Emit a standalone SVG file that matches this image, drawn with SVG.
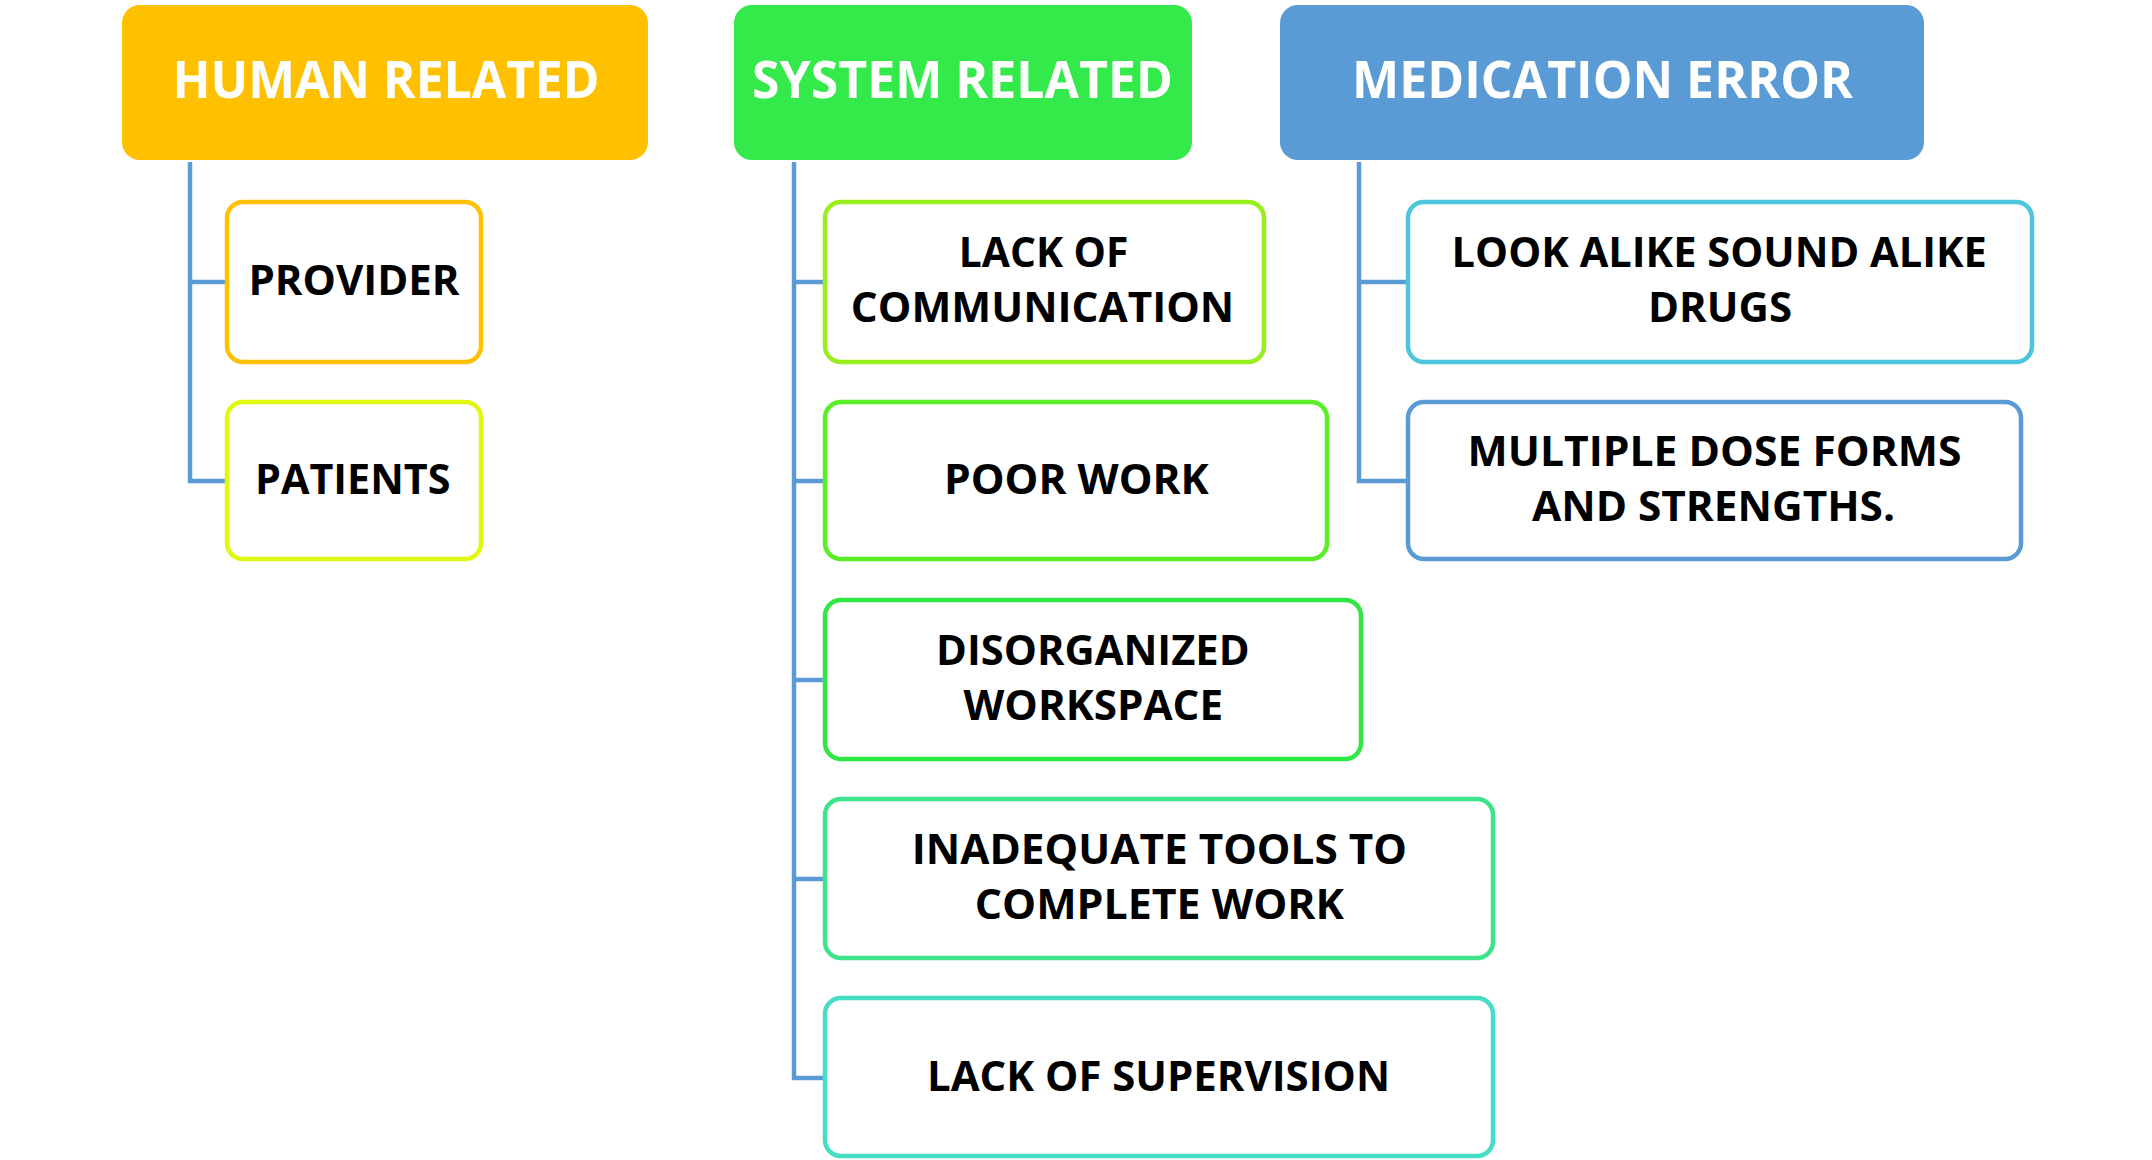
<svg xmlns="http://www.w3.org/2000/svg" width="2152" height="1160" viewBox="0 0 2152 1160">
<style>
.hdr{stroke:none}
.hdrtxt{font-family:"Open Sans","Liberation Sans",sans-serif;font-weight:700;font-size:52px;fill:#FFFFFF;text-anchor:middle}
.box{fill:#FFFFFF;stroke-width:4.5}
.txt{font-family:"Open Sans","Liberation Sans",sans-serif;font-weight:700;font-size:42px;fill:#000000;text-anchor:middle}
.conn{fill:none;stroke:#5B9BD5;stroke-width:4.5}
</style>
<rect width="2152" height="1160" fill="#FFFFFF"/>
<g id="connectors">
<path class="conn" d="M190 162 V481 H227 M190 282 H227"/>
<path class="conn" d="M794 162 V1078 H825 M794 282 H825 M794 481 H825 M794 680 H825 M794 879 H825"/>
<path class="conn" d="M1359 162 V481 H1408 M1359 282 H1408"/>
</g>
<g id="human-related">
<rect class="hdr" x="122" y="5" width="526" height="155" rx="18" fill="#FFC000"/>
<text class="hdrtxt" x="386" y="98" textLength="427" lengthAdjust="spacingAndGlyphs">HUMAN RELATED</text>
</g>
<g id="system-related">
<rect class="hdr" x="734" y="5" width="458" height="155" rx="18" fill="#33EA4A"/>
<text class="hdrtxt" x="962.5" y="98" textLength="421" lengthAdjust="spacingAndGlyphs">SYSTEM RELATED</text>
</g>
<g id="medication-error">
<rect class="hdr" x="1280" y="5" width="644" height="155" rx="18" fill="#5B9BD5"/>
<text class="hdrtxt" x="1602.5" y="98" textLength="501" lengthAdjust="spacingAndGlyphs">MEDICATION ERROR</text>
</g>
<g id="provider">
<rect class="box" x="227" y="202" width="254" height="160" rx="16" stroke="#FFC000"/>
<text class="txt" x="354" y="295" textLength="211" lengthAdjust="spacingAndGlyphs">PROVIDER</text>
</g>
<g id="patients">
<rect class="box" x="227" y="402" width="254" height="157" rx="16" stroke="#E0F80E"/>
<text class="txt" x="352.7" y="494" textLength="195.5" lengthAdjust="spacingAndGlyphs">PATIENTS</text>
</g>
<g id="lack-of-communication">
<rect class="box" x="825" y="202" width="439" height="160" rx="16" stroke="#98EE1E"/>
<text class="txt" x="1043.6" y="267" textLength="169.7" lengthAdjust="spacingAndGlyphs">LACK OF</text>
<text class="txt" x="1042.5" y="322" textLength="383.5" lengthAdjust="spacingAndGlyphs">COMMUNICATION</text>
</g>
<g id="poor-work">
<rect class="box" x="825" y="402" width="502" height="157" rx="16" stroke="#58EE28"/>
<text class="txt" x="1076.4" y="494" textLength="264.8" lengthAdjust="spacingAndGlyphs">POOR WORK</text>
</g>
<g id="disorganized-workspace">
<rect class="box" x="825" y="600" width="536" height="159" rx="16" stroke="#30E844"/>
<text class="txt" x="1092.8" y="664.5" textLength="313.6" lengthAdjust="spacingAndGlyphs">DISORGANIZED</text>
<text class="txt" x="1093.3" y="720" textLength="259.4" lengthAdjust="spacingAndGlyphs">WORKSPACE</text>
</g>
<g id="inadequate-tools">
<rect class="box" x="825" y="799" width="668" height="159" rx="16" stroke="#3EE38C"/>
<text class="txt" x="1159.4" y="864" textLength="495.3" lengthAdjust="spacingAndGlyphs">INADEQUATE TOOLS TO</text>
<text class="txt" x="1159.4" y="918.5" textLength="369.3" lengthAdjust="spacingAndGlyphs">COMPLETE WORK</text>
</g>
<g id="lack-of-supervision">
<rect class="box" x="825" y="998" width="668" height="158" rx="16" stroke="#45DEC4"/>
<text class="txt" x="1158.5" y="1090.5" textLength="463" lengthAdjust="spacingAndGlyphs">LACK OF SUPERVISION</text>
</g>
<g id="look-alike">
<rect class="box" x="1408" y="202" width="624" height="160" rx="16" stroke="#4DC5DB"/>
<text class="txt" x="1719.2" y="267" textLength="535.2" lengthAdjust="spacingAndGlyphs">LOOK ALIKE SOUND ALIKE</text>
<text class="txt" x="1720" y="322" textLength="144" lengthAdjust="spacingAndGlyphs">DRUGS</text>
</g>
<g id="multiple-dose-forms">
<rect class="box" x="1408" y="402" width="613" height="157" rx="16" stroke="#5B9BD5"/>
<text class="txt" x="1714.5" y="466" textLength="494" lengthAdjust="spacingAndGlyphs">MULTIPLE DOSE FORMS</text>
<text class="txt" x="1713.5" y="521" textLength="363" lengthAdjust="spacingAndGlyphs">AND STRENGTHS.</text>
</g>
</svg>
